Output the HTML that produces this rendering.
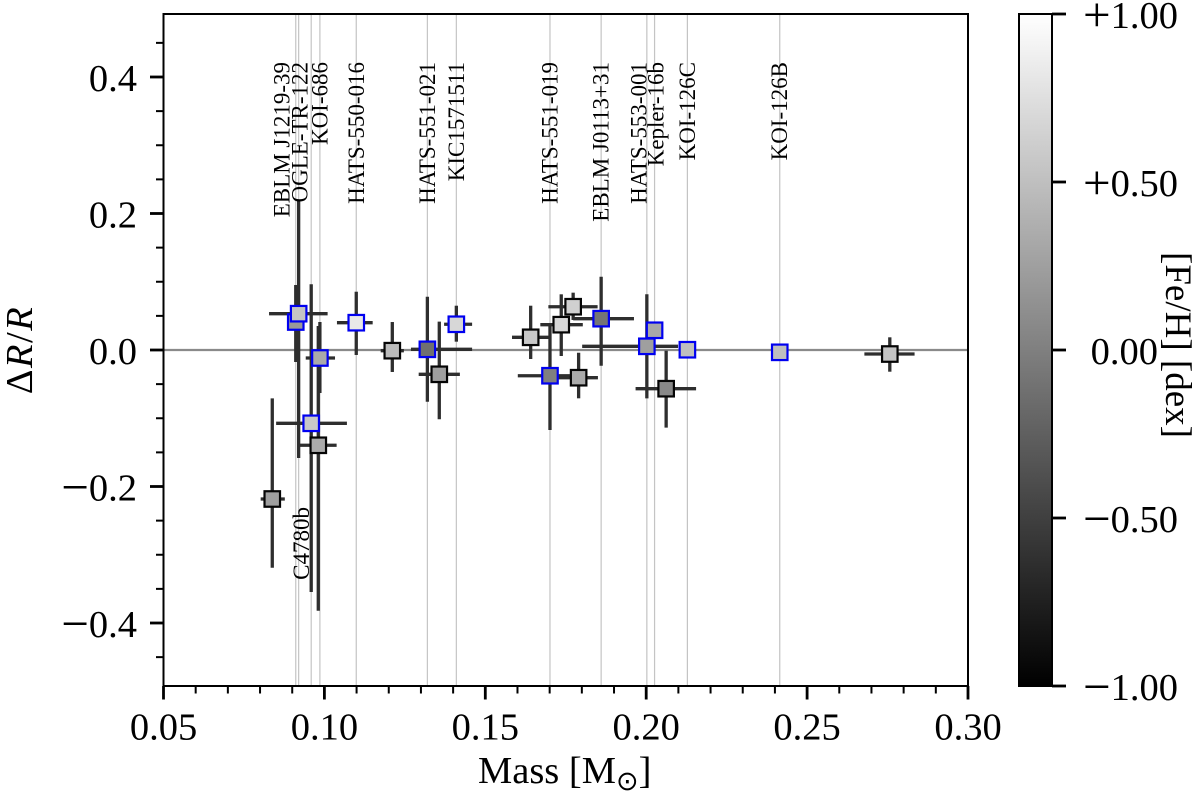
<!DOCTYPE html>
<html lang="en">
<head>
<meta charset="utf-8">
<title>Mass vs radius residual</title>
<style>
  html, body { margin: 0; padding: 0; background: #fff; width: 1200px; height: 794px; overflow: hidden; }
  svg { display: block; font-family: "Liberation Serif", "Times New Roman", serif; }
  text { fill: #000; }
</style>
</head>
<body>
<svg id="chart" xmlns="http://www.w3.org/2000/svg" width="1200" height="794" viewBox="0 0 1200 794">
  <defs>
    <linearGradient id="grayRamp" x1="0" y1="0" x2="0" y2="1">
      <stop offset="0" stop-color="#ffffff"/>
      <stop offset="1" stop-color="#000000"/>
    </linearGradient>
  </defs>
  <rect x="1019" y="14" width="33" height="672" fill="url(#grayRamp)"/>
  <rect x="1019" y="14" width="33" height="672" fill="none" stroke="#000" stroke-width="2"/>
  <text x="478" y="783" font-size="38.5">Mass [M<tspan font-family="'DejaVu Sans', sans-serif" font-size="27" dy="7">⊙</tspan><tspan dy="-7">]</tspan></text>
  <text transform="translate(32,350) rotate(-90)" text-anchor="middle" font-size="38.5" letter-spacing="1.5">Δ<tspan font-style="italic">R</tspan>/<tspan font-style="italic">R</tspan></text>
  <text transform="translate(1166,345) rotate(90)" text-anchor="middle" font-size="37">[Fe/H] [dex]</text>
</svg>
<script>
const massValues = [0.0911,0.0920,0.0959,0.0986,0.0981,0.0838,0.1099,0.1211,0.1320,0.1357,0.1410,0.1641,0.1736,0.1773,0.1860,0.1701,0.1790,0.2002,0.2026,0.2128,0.2415,0.2062,0.2757];
const massLower = [0.0911,0.0828,0.0850,0.0942,0.0922,0.0802,0.1039,0.1175,0.1269,0.1293,0.1372,0.1583,0.1671,0.1696,0.1773,0.1601,0.1726,0.1801,0.2026,0.2128,0.2415,0.1967,0.2678];
const massUpper = [0.0911,0.1010,0.1070,0.1033,0.1038,0.0877,0.1150,0.1247,0.1459,0.1421,0.1459,0.1701,0.1803,0.1849,0.1962,0.1763,0.1850,0.2099,0.2026,0.2128,0.2415,0.2155,0.2834];
const residualValues = [0.0410,0.0532,-0.1074,-0.0117,-0.1396,-0.2183,0.0400,-0.0010,0.0010,-0.0356,0.0377,0.0186,0.0371,0.0634,0.0459,-0.0377,-0.0406,0.0054,0.0289,0.0004,-0.0034,-0.0567,-0.0059];
const residualLower = [-0.0176,-0.1582,-0.3546,-0.0630,-0.3820,-0.3190,-0.0073,-0.0322,-0.0758,-0.1015,0.0122,-0.0132,-0.0088,0.0440,-0.0230,-0.1172,-0.0708,-0.0708,0.0289,0.0004,-0.0034,-0.1138,-0.0318];
const residualUpper = [0.0952,0.2198,0.0963,0.0410,0.0352,-0.0708,0.0854,0.0410,0.0781,0.0415,0.0649,0.0649,0.0816,0.0840,0.1074,0.0366,-0.0040,0.0816,0.0289,0.0004,-0.0034,-0.0010,0.0186];
const metallicity = [0.20,0.54,0.57,0.33,0.33,0.25,0.82,0.47,-0.12,0.25,0.69,0.57,0.69,0.63,-0.08,0.00,0.33,0.25,0.32,0.50,0.50,0.07,0.54];
const starNames = ["EBLM J1219-39","OGLE-TR-122","C4780b","KOI-686","","","HATS-550-016","","HATS-551-021","","KIC1571511","","","","EBLM J0113+31","HATS-551-019","","HATS-553-001","Kepler-16b","KOI-126C","KOI-126B","",""];
const xTickLabels = ["0.05","0.10","0.15","0.20","0.25","0.30"];
const yTickLabels = ["−0.4","−0.2","0.0","0.2","0.4"];
const colorbarTickLabels = ["−1.00","−0.50","0.00","+0.50","+1.00"];

const NS = 'http://www.w3.org/2000/svg';
const svg = document.getElementById('chart');
const plot = { left: 163.5, right: 968, top: 14, bottom: 686 };
const xDomain = [0.05, 0.30];
const yDomain = [-0.4923, 0.4923];
const cbarDomain = [-1, 1];

function xScale(v) { return plot.left + (v - xDomain[0]) / (xDomain[1] - xDomain[0]) * (plot.right - plot.left); }
function yScale(v) { return plot.bottom - (v - yDomain[0]) / (yDomain[1] - yDomain[0]) * (plot.bottom - plot.top); }
function cScale(v) { return plot.bottom - (v - cbarDomain[0]) / (cbarDomain[1] - cbarDomain[0]) * (plot.bottom - plot.top); }
function grayOf(v) {
  const g = Math.round(Math.max(0, Math.min(1, (v + 1) / 2)) * 255);
  return 'rgb(' + g + ',' + g + ',' + g + ')';
}
function make(tag, attrs) {
  const el = document.createElementNS(NS, tag);
  for (const k in attrs) el.setAttribute(k, attrs[k]);
  svg.appendChild(el);
  return el;
}
function seg(x1, y1, x2, y2, color, width) {
  return make('line', { x1: x1, y1: y1, x2: x2, y2: y2, stroke: color, 'stroke-width': width });
}
function numeric(lab) { return parseFloat(lab.replace('−', '-')); }
function fillTick(t, lab) {
  const first = lab.charAt(0);
  if (first === '−' || first === '+') {
    const sign = document.createElementNS(NS, 'tspan');
    sign.setAttribute('font-size', '49');
    sign.setAttribute('dy', '3');
    sign.textContent = first;
    t.appendChild(sign);
    const rest = document.createElementNS(NS, 'tspan');
    rest.setAttribute('dy', '-3');
    rest.textContent = lab.slice(1);
    t.appendChild(rest);
  } else {
    t.textContent = lab;
  }
}

// Reference lines for each named star
starNames.forEach(function (name, i) {
  if (!name) return;
  const ln = seg(xScale(massValues[i]), plot.top, xScale(massValues[i]), plot.bottom, '#c4c4c4', 1.2);
  
  
});

// Zero line
const zeroLine = seg(plot.left, yScale(0), plot.right, yScale(0), '#8a8a8a', 2.2);



// Error bars
massValues.forEach(function (m, i) {
  const cx = xScale(m), cy = yScale(residualValues[i]);
  if (massUpper[i] > massLower[i]) {
    const h = seg(xScale(massLower[i]), cy, xScale(massUpper[i]), cy, '#2e2e2e', 3.3);
    
    
  }
  if (residualUpper[i] > residualLower[i]) {
    const v = seg(cx, yScale(residualUpper[i]), cx, yScale(residualLower[i]), '#2e2e2e', 3.3);
    
    
  }
});

// Markers: named stars have blue edges, the rest a dark edge
const blueEdged = [1,1,1,1,0,0,1,0,1,0,1,0,0,0,1,1,0,1,1,1,1,0,0];
massValues.forEach(function (m, i) {
  const s = 15.5;
  const r = make('rect', {
    x: xScale(m) - s / 2, y: yScale(residualValues[i]) - s / 2, width: s, height: s,
    fill: grayOf(metallicity[i]),
    stroke: blueEdged[i] ? '#0000f0' : '#050505', 'stroke-width': 2.2
  });
  
  
});

// Star labels
const labelShift = { "EBLM J1219-39": -14, "OGLE-TR-122": 1.3, "C4780b": -9.6, "HATS-553-001": -8, "Kepler-16b": 1.3 };
starNames.forEach(function (name, i) {
  if (!name) return;
  const lx = xScale(massValues[i]) + (labelShift[name] || 0) + 7.5;
  const ly = name === 'C4780b' ? 507 : 62;
  const t = make('text', { transform: 'translate(' + lx + ',' + ly + ') rotate(-90)', 'text-anchor': 'end', 'font-size': 23 });
  t.textContent = name;
  
  
});

// Axes frame
const frame = make('rect', { x: plot.left, y: plot.top, width: plot.right - plot.left, height: plot.bottom - plot.top, fill: 'none', stroke: '#000', 'stroke-width': 2 });



// X ticks
xTickLabels.forEach(function (lab) {
  const x = xScale(parseFloat(lab));
  const tick = seg(x, plot.bottom, x, plot.bottom + 13.5, '#000', 2.8);
  
  
  const t = make('text', { x: x, y: 739.5, 'text-anchor': 'middle', 'font-size': 38.5 });
  t.textContent = lab;
  
  
});
for (let k = 1; k < 25; k++) {
  if (k % 5 === 0) continue;
  const x = xScale(xDomain[0] + k * 0.01);
  const minor = seg(x, plot.bottom, x, plot.bottom + 7.5, '#000', 2);
  
  
}

// Y ticks
yTickLabels.forEach(function (lab) {
  const y = yScale(numeric(lab));
  const tick = seg(plot.left - 13.5, y, plot.left, y, '#000', 2.8);
  
  
  const t = make('text', { x: 137, y: y + 14, 'text-anchor': 'end', 'font-size': 38.5 });
  fillTick(t, lab);
  
  
});
for (let k = -9; k <= 9; k++) {
  if (k % 4 === 0) continue;
  const y = yScale(k * 0.05);
  const minor = seg(plot.left - 7.5, y, plot.left, y, '#000', 2);
  
  
}

// Colorbar ticks
colorbarTickLabels.forEach(function (lab) {
  const y = cScale(numeric(lab));
  const tick = seg(1052, y, 1066, y, '#000', 2.8);
  
  
  const signed = lab.charAt(0) === '−' || lab.charAt(0) === '+';
  const t = make('text', { x: signed ? 1178 : 1158, y: y + 14, 'text-anchor': 'end', 'font-size': 38.5 });
  fillTick(t, lab);
  
  
});
</script>
</body>
</html>
